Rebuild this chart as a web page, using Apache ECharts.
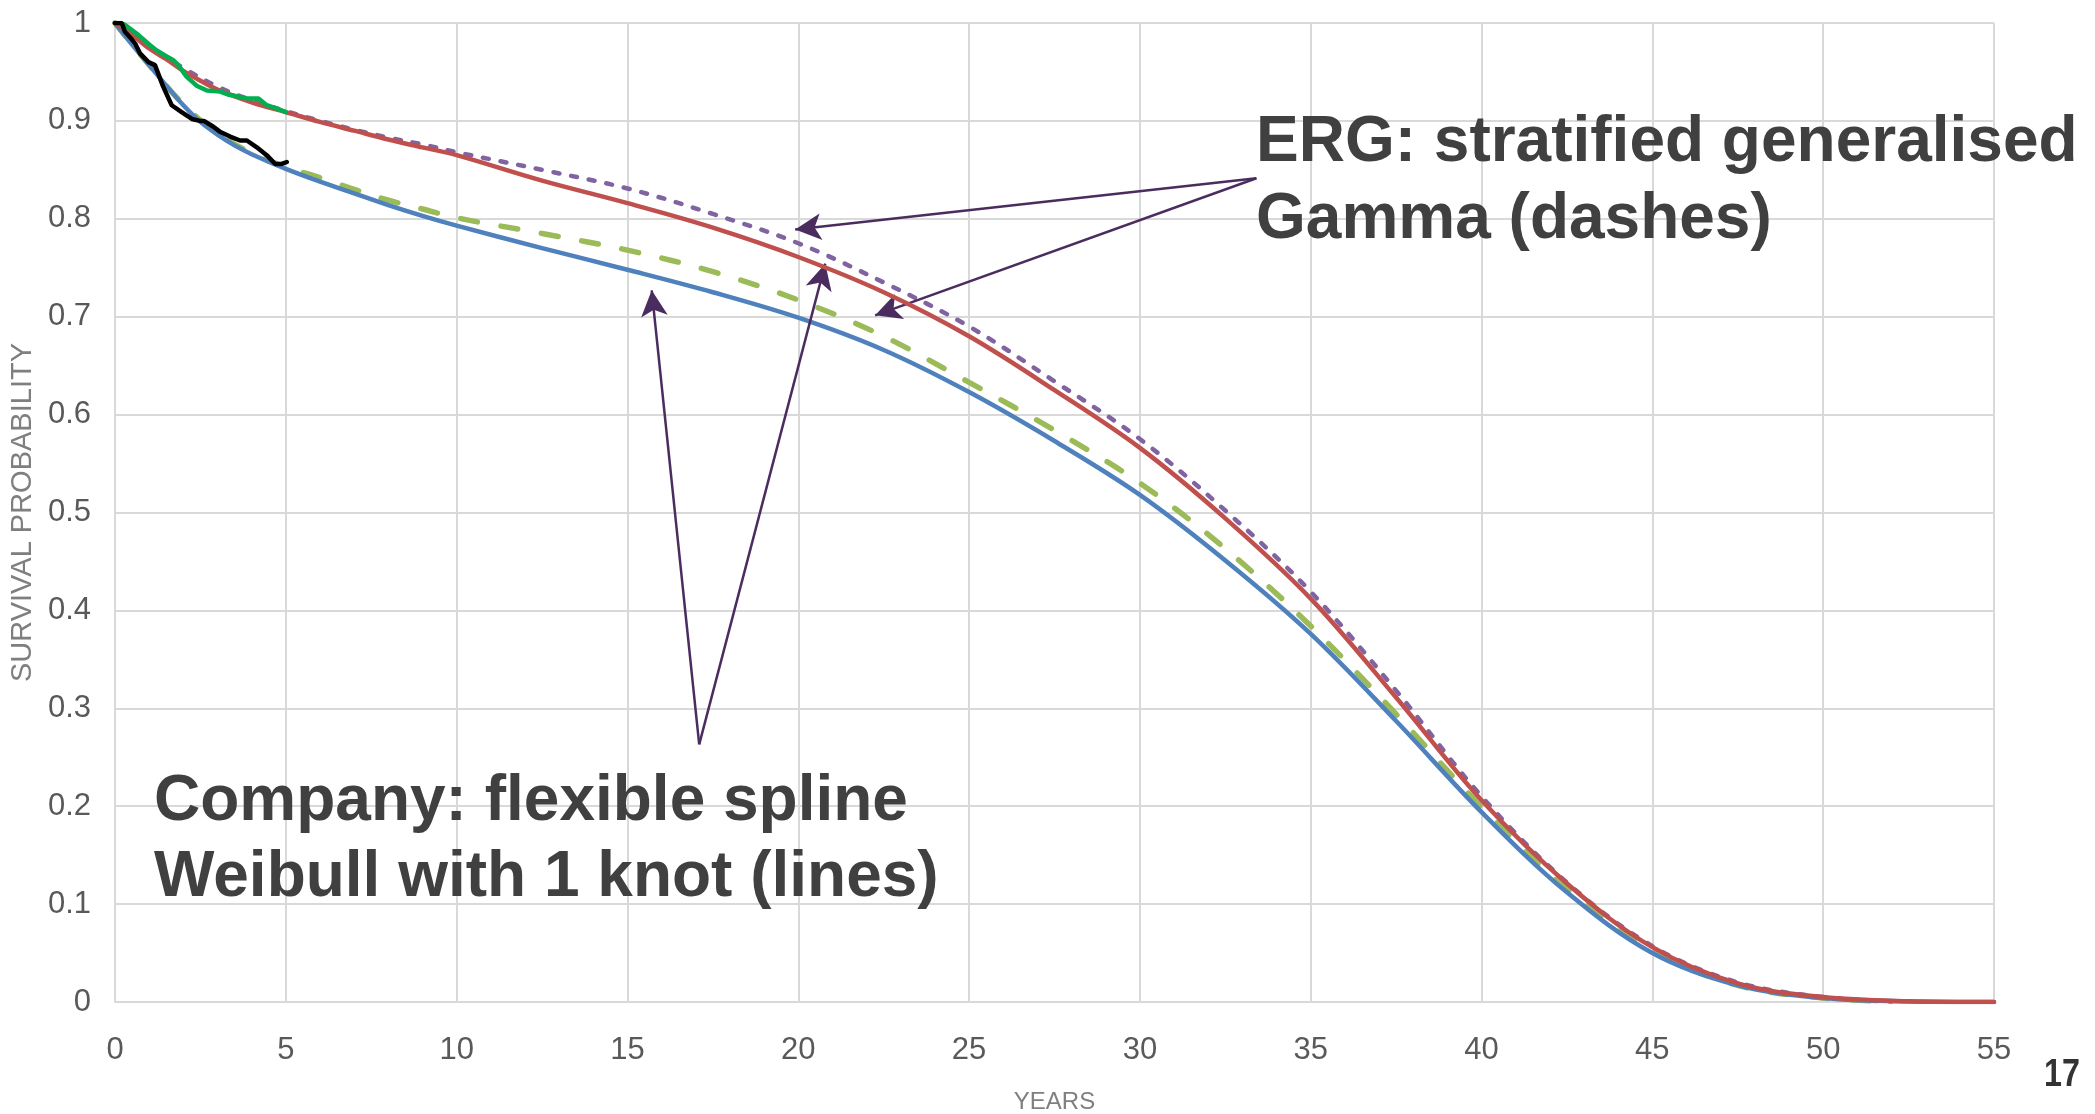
<!DOCTYPE html>
<html>
<head>
<meta charset="utf-8">
<script src="https://cdn.jsdelivr.net/npm/echarts@6/dist/echarts.min.js"></script>
<style>
  html, body { margin: 0; padding: 0; background: #fff; }
  #chart { width: 2095px; height: 1114px; }
</style>
</head>
<body>
<div id="chart"></div>
<script>
// --- 数据 (years, survival probability) ---
const companyLow = [
  [0, 1.0], [0.5, 0.978], [1, 0.957], [1.5, 0.936], [2, 0.916], [2.5, 0.899], [3, 0.886], [3.5, 0.875],
  [4, 0.866], [5, 0.851], [6, 0.838], [7, 0.826], [8, 0.814], [9, 0.803], [10, 0.793], [12.5, 0.770],
  [15, 0.748], [17.5, 0.725], [20, 0.699], [22.5, 0.666], [25, 0.623], [27.5, 0.573], [30, 0.518],
  [32.5, 0.451], [35, 0.376], [37.5, 0.287], [40, 0.194], [42.5, 0.112], [45, 0.050], [47.5, 0.017],
  [50, 0.004], [52.5, 0.0005], [55, 0]
];
const companyHigh = [
  [0, 1.0], [0.5, 0.988], [1, 0.974], [1.5, 0.963], [2, 0.951], [2.5, 0.941], [3, 0.932], [4, 0.919],
  [5, 0.909], [6, 0.899], [7, 0.890], [8, 0.881], [9, 0.873], [10, 0.865], [12.5, 0.839], [15, 0.816],
  [17.5, 0.791], [20, 0.761], [22.5, 0.725], [25, 0.680], [27.5, 0.625], [30, 0.566], [32.5, 0.494],
  [35, 0.412], [37.5, 0.311], [40, 0.206], [42.5, 0.121], [45, 0.056], [47.5, 0.019], [50, 0.005],
  [52.5, 0.0008], [55, 0]
];
const ergLow = [
  [0, 1.0], [1, 0.957], [2, 0.917], [3, 0.887], [4, 0.867], [5, 0.853], [6, 0.842], [7, 0.830],
  [8, 0.819], [9, 0.810], [10, 0.801], [12.5, 0.785], [15, 0.768], [17.5, 0.746], [20, 0.717],
  [22.5, 0.680], [25, 0.633], [27.5, 0.584], [30, 0.530], [32.5, 0.463], [35, 0.384], [37.5, 0.294],
  [40, 0.199], [42.5, 0.115], [45, 0.052], [47.5, 0.017], [50, 0.004], [52, 0.0005]
];
const ergHigh = [
  [0, 1.0], [1, 0.976], [2, 0.954], [3, 0.935], [4, 0.921], [5, 0.910], [6, 0.900], [7, 0.891],
  [8, 0.883], [9, 0.876], [10, 0.868], [12.5, 0.850], [15, 0.831], [17.5, 0.805], [20, 0.775],
  [22.5, 0.735], [25, 0.690], [27.5, 0.634], [30, 0.575], [32.5, 0.502], [35, 0.419], [37.5, 0.318],
  [40, 0.210], [42.5, 0.122], [45, 0.057], [47.5, 0.020], [50, 0.005], [52, 0.0005]
];
const kmHigh = [
  [0, 1.0], [0.3, 0.998], [0.64, 0.989], [1.0, 0.978], [1.22, 0.972], [1.5, 0.966], [1.71, 0.962],
  [1.85, 0.957], [2.1, 0.945], [2.39, 0.936], [2.69, 0.931], [3.08, 0.930], [3.3, 0.927], [3.46, 0.926],
  [3.86, 0.923], [4.2, 0.923], [4.44, 0.916], [4.7, 0.913], [5.0, 0.909]
];
const kmLow = [
  [0, 1.0], [0.2, 1.0], [0.29, 0.991], [0.45, 0.985], [0.59, 0.979], [0.73, 0.969], [0.98, 0.960],
  [1.17, 0.957], [1.41, 0.935], [1.66, 0.916], [1.95, 0.909], [2.25, 0.902], [2.49, 0.900], [2.6, 0.900],
  [2.88, 0.894], [3.07, 0.889], [3.37, 0.884], [3.66, 0.880], [3.86, 0.880], [4.15, 0.873], [4.44, 0.865],
  [4.69, 0.856], [4.88, 0.856], [5.03, 0.858]
];
// 箭头: [起点, 终点]
const arrows = [
  [[33.41, 0.8414], [19.91, 0.789]],
  [[33.41, 0.8414], [22.25, 0.7014]],
  [[17.10, 0.2632], [15.71, 0.727]],
  [[17.10, 0.2632], [20.79, 0.7542]]
];
const ergText = ['ERG: stratified generalised', 'Gamma (dashes)'];
const companyText = ['Company: flexible spline', 'Weibull with 1 knot (lines)'];

const tickFont = "'Liberation Sans Narrow', 'Liberation Sans', sans-serif";
const boldFont = "bold 64px 'Liberation Sans', Arial, sans-serif";

const chart = echarts.init(document.getElementById('chart'));

const lineSeries = (name, data, color, width, type, z) => ({
  name, type: 'line', data, smooth: 0.35, symbol: 'none', z,
  lineStyle: { color, width, type, cap: 'round' },
  animation: false,
});

chart.setOption({
  animation: false,
  grid: { left: 115, right: 101, top: 23, bottom: 112, containLabel: false, outerBoundsMode: 'none' },
  xAxis: {
    type: 'value', min: 0, max: 55, interval: 5,
    name: 'YEARS', nameLocation: 'middle', nameGap: 88,
    nameTextStyle: { color: '#7f7f7f', fontSize: 24, fontFamily: tickFont },
    axisLine: { show: true, lineStyle: { color: '#d9d9d9', width: 2 } },
    axisTick: { show: false },
    axisLabel: { color: '#595959', fontSize: 31, fontFamily: tickFont, margin: 33 },
    splitLine: { show: true, lineStyle: { color: '#d9d9d9', width: 2 } },
  },
  yAxis: {
    type: 'value', min: 0, max: 1, interval: 0.1,
    name: 'SURVIVAL PROBABILITY', nameLocation: 'middle', nameGap: 74,
    nameTextStyle: { color: '#7f7f7f', fontSize: 29, fontFamily: tickFont },
    axisLine: { show: false },
    axisTick: { show: false },
    axisLabel: { color: '#595959', fontSize: 31, fontFamily: tickFont, margin: 24 },
    splitLine: { show: true, lineStyle: { color: '#d9d9d9', width: 2 } },
  },
  series: [
    lineSeries('ERG low', ergLow, '#9bbb59', 5.5, [17, 24], 2),
    lineSeries('ERG high', ergHigh, '#8064a2', 4.5, [6, 12], 3),
    lineSeries('Company low', companyLow, '#4f81bd', 4.5, 'solid', 4),
    lineSeries('Company high', companyHigh, '#c0504d', 4.5, 'solid', 5),
    Object.assign(lineSeries('KM high', kmHigh, '#00b050', 4.5, 'solid', 6), { smooth: false }),
    Object.assign(lineSeries('KM low', kmLow, '#000000', 4.5, 'solid', 7), { smooth: false }),
    {
      name: 'arrows', type: 'line', data: [], z: 10, silent: true,
      markLine: {
        silent: true, animation: false,
        symbol: ['none', 'arrow'], symbolSize: [20, 26],
        label: { show: false },
        lineStyle: { color: '#4b2c5f', width: 2.5, type: 'solid' },
        data: arrows.map(a => [{ coord: a[0] }, { coord: a[1] }]),
      },
    },
  ],
  graphic: [
    { type: 'text', z: 100, left: 1256, top: 111, style: { text: ergText[0], font: boldFont, fill: '#404040' } },
    { type: 'text', z: 100, left: 1256, top: 188, style: { text: ergText[1], font: boldFont, fill: '#404040' } },
    { type: 'text', z: 100, left: 154, top: 770, style: { text: companyText[0], font: boldFont, fill: '#404040' } },
    { type: 'text', z: 100, left: 154, top: 846, style: { text: companyText[1], font: boldFont, fill: '#404040' } },
    { type: 'text', z: 100, x: 2044, y: 1057, scaleX: 0.85, style: { text: '17', font: "bold 38px 'Liberation Sans', sans-serif", fill: '#333333' } },
  ],
});
</script>
</body>
</html>
